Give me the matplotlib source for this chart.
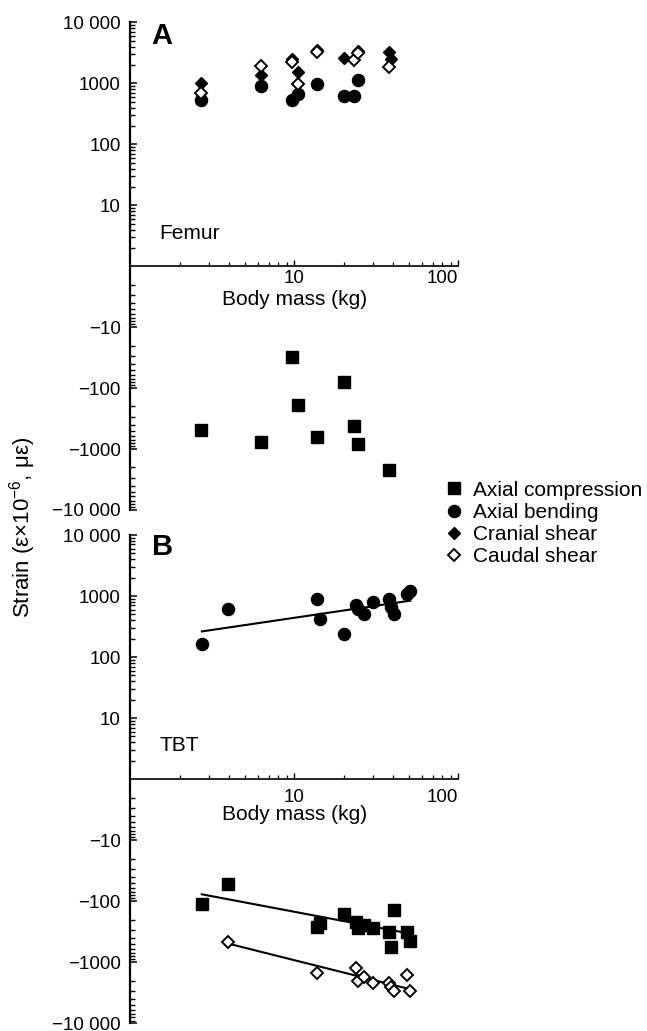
import numpy as np
import matplotlib
matplotlib.use('Agg')
import matplotlib.pyplot as plt
from matplotlib.lines import Line2D
from matplotlib.ticker import FixedLocator

plt.rcParams['font.family'] = ['Liberation Sans', 'DejaVu Sans']
plt.rcParams['mathtext.fontset'] = 'custom'
plt.rcParams['mathtext.rm'] = 'Liberation Sans'
plt.rcParams['mathtext.default'] = 'regular'

nan = np.nan

# Femur (panel A)
femur_mass = [2.7, 6.3, 9.7, 10.6, 13.7, 20.0, 23.0, 24.3, 38.0, 38.6]
femur_compression = [-486, -776, -31, -188, -627, -79, -412, -828, -2218, nan]
femur_bending = [545, 915, 530, 660, 980, 620, 629, 1130, nan, nan]
femur_cranial = [1000, 1380, 2550, 1515, 3600, 2570, nan, 3450, 3300, 2500]
femur_caudal = [710, 1950, 2250, 990, 3220, nan, 2460, 3200, 1850, nan]

# TBT (panel B)
tbt_mass = [2.73, 3.96, 13.8, 14.3, 20.1, 23.7, 24.5, 26.5, 30.2, 37.9, 38.7, 40.3, 48.7, 51.0]
tbt_bending = [166, 623, 895, 425, 237, 700, 620, 507, 790, 885, 668, 507, 1080, 1200]
tbt_compression = [-113, -52, -262, -228, -165, -222, -270, -243, -275, -315, -570, -140, -318, -455]
tbt_caudal = [nan, -457, -1520, nan, nan, -1230, -2040, -1740, -2190, -2190, -2510, -2960, -1640, -2960]

# regression lines (end points)
bend_fit_mass = [2.73, 51.0]
bend_fit = [263, 840]
comp_fit_mass = [2.73, 51.0]
comp_fit = [-77, -340]
caud_fit_mass = [3.96, 51.0]
caud_fit = [-495, -2770]

major_vals = [-10000, -1000, -100, -10, 10, 100, 1000, 10000]
major_labels = ['\u221210 000', '\u22121000', '\u2212100', '\u221210', '10', '100', '1000', '10 000']


def fwd(v):
    v = np.asarray(v, dtype=float)
    return np.sign(v) * np.log10(np.maximum(np.abs(v), 1.0))


def inv(t):
    t = np.asarray(t, dtype=float)
    return np.sign(t) * 10 ** np.abs(t)


minor_vals = []
for k in range(4):
    for m in range(2, 10):
        minor_vals += [m * 10 ** k, -m * 10 ** k]

W, H = 647, 1031
fig = plt.figure(figsize=(W / 100, H / 100), dpi=100)

x0, x1 = 130.3, 458.3
axA = fig.add_axes([x0 / W, 1 - 510 / H, (x1 - x0) / W, (510 - 22.5) / H])
axB = fig.add_axes([x0 / W, 1 - 1023.3 / H, (x1 - x0) / W, (1023.3 - 535) / H])


def style_axis(ax, xpad, label_off):
    ax.set_xscale('log')
    ax.set_yscale('function', functions=(fwd, inv))
    ax.set_xlim(1, 100)
    ax.set_ylim(-10000, 10000)
    ax.spines['top'].set_visible(False)
    ax.spines['right'].set_visible(False)
    ax.spines['bottom'].set_position(('data', 0))
    ax.spines['left'].set_linewidth(1.6)
    ax.spines['bottom'].set_linewidth(1.2)
    ax.yaxis.set_major_locator(FixedLocator(major_vals))
    ax.set_yticklabels(major_labels)
    ax.yaxis.set_minor_locator(FixedLocator(minor_vals))
    ax.yaxis.set_minor_formatter(plt.NullFormatter())
    ax.set_xticks([10, 100])
    ax.set_xticklabels(['10', '100'])
    ax.get_xticklabels()[1].set_ha('right')
    ax.xaxis.set_minor_locator(FixedLocator([2, 3, 4, 5, 6, 7, 8, 9, 20, 30, 40, 50, 60, 70, 80, 90]))
    ax.xaxis.set_minor_formatter(plt.NullFormatter())
    ax.tick_params(axis='y', which='major', direction='in', length=5, width=1.1, pad=7, labelsize=13.5)
    ax.tick_params(axis='y', which='minor', direction='in', length=3.8, width=1.0)
    ax.tick_params(axis='x', which='major', direction='in', length=4.5, width=1.0, pad=xpad, labelsize=13.5)
    ax.tick_params(axis='x', which='minor', direction='in', length=3, width=0.9)
    ax.patch.set_visible(False)
    ax.annotate('Body mass (kg)', xy=(0.5, 0), xycoords=ax.get_yaxis_transform(),
                xytext=(0, -label_off), textcoords='offset points',
                ha='center', va='center', fontsize=15)


style_axis(axA, 3, 23.8)
style_axis(axB, 7, 25.2)

sq = dict(marker='s', ms=8.3, color='black', linestyle='none', clip_on=False)
ci = dict(marker='o', ms=8.7, color='black', linestyle='none', clip_on=False)
dfill = dict(marker='D', ms=6.4, color='black', linestyle='none', clip_on=False)
dopen = dict(marker='D', ms=6.4, mfc='white', mec='black', mew=1.4, linestyle='none', clip_on=False)

axA.plot(femur_mass, femur_compression, **sq)
axA.plot(femur_mass, femur_bending, **ci)
axA.plot(femur_mass, femur_cranial, **dfill)
axA.plot(femur_mass, femur_caudal, **dopen)

axB.plot(bend_fit_mass, bend_fit, color='black', lw=1.5)
axB.plot(comp_fit_mass, comp_fit, color='black', lw=1.5)
axB.plot(caud_fit_mass, caud_fit, color='black', lw=1.5)
axB.plot(tbt_mass, tbt_compression, **sq)
axB.plot(tbt_mass, tbt_bending, **ci)
axB.plot(tbt_mass, tbt_caudal, **dopen)

fig.text(159 / W, 1 - 239.3 / H, 'Femur', fontsize=15, ha='left', va='baseline')
fig.text(160 / W, 1 - 750.7 / H, 'TBT', fontsize=15, ha='left', va='baseline')
fig.text(162 / W, 1 - 44 / H, 'A', fontsize=21, fontweight='bold', ha='center', va='baseline')
fig.text(163 / W, 1 - 555 / H, 'B', fontsize=21, fontweight='bold', ha='center', va='baseline')

fig.text(23 / W, 1 - 527 / H, 'Strain (\u03b5\u00d710$^{-6}$, \u03bc\u03b5)', rotation=90,
         ha='center', va='center', fontsize=16)

handles = [Line2D([], [], **sq), Line2D([], [], **ci), Line2D([], [], **dfill), Line2D([], [], **dopen)]
labels = ['Axial compression', 'Axial bending', 'Cranial shear', 'Caudal shear']
fig.legend(handles, labels, loc='center left', bbox_to_anchor=(443.6 / W, 1 - 523.5 / H),
           frameon=False, fontsize=15, handlelength=1.0, handletextpad=0.4,
           labelspacing=0.16, borderpad=0, borderaxespad=0)

fig.savefig('out.png', dpi=100)
